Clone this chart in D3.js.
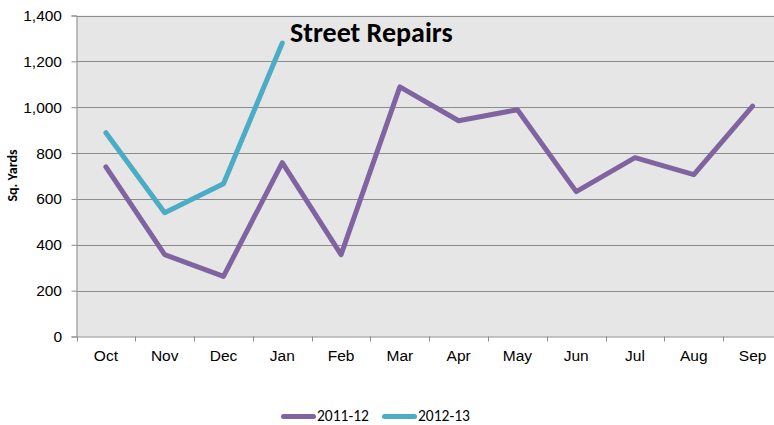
<!DOCTYPE html>
<html>
<head>
<meta charset="utf-8">
<script src="https://cdn.jsdelivr.net/npm/d3@7"></script>
<style>
  html, body { margin: 0; padding: 0; background: #fff; }
  svg { display: block; font-family: Calibri, Carlito, "Open Sans", "Liberation Sans", sans-serif; }
</style>
</head>
<body>
<svg id="chart" width="774" height="425"></svg>
<script>
// Monthly square yards of street repairs, fiscal years Oct–Sep
const months = ["Oct", "Nov", "Dec", "Jan", "Feb", "Mar", "Apr", "May", "Jun", "Jul", "Aug", "Sep"];
const fy2011 = [740, 357, 262, 758, 357, 1089, 941, 989, 632, 780, 706, 1005];
const fy2012 = [889, 540, 666, 1280];
const yTicks = [0, 200, 400, 600, 800, 1000, 1200, 1400];
const seriesNames = ["2011-12", "2012-13"];
const seriesColors = ["#8064A2", "#4BACC6"];

const svg = d3.select("#chart");
const plot = { left: 76.5, top: 15.5, right: 782, bottom: 336.5 };
const labelSize = 15.5;

const x = d3.scaleBand().domain(months).range([plot.left, plot.right]);
const y = d3.scaleLinear().domain([0, 1400]).range([plot.bottom, plot.top]);

// plot background
svg.append("rect")
  .attr("x", plot.left).attr("y", plot.top)
  .attr("width", plot.right - plot.left).attr("height", plot.bottom - plot.top)
  .attr("fill", "#e6e6e6");

// horizontal gridlines
svg.append("g").selectAll("line").data(yTicks.filter(d => d > 0)).join("line")
  .attr("x1", plot.left).attr("x2", plot.right)
  .attr("y1", d => Math.round(y(d)) + 0.5).attr("y2", d => Math.round(y(d)) + 0.5)
  .attr("stroke", "#8c8c8c").attr("stroke-width", 1);

// y axis
const yAxis = svg.append("g")
  .attr("transform", `translate(${plot.left},0)`)
  .call(d3.axisLeft(y).tickValues(yTicks).tickFormat(d3.format(",")).tickSize(5).tickPadding(9.5));
yAxis.select(".domain").attr("stroke", "#8c8c8c");
yAxis.selectAll(".tick line").attr("stroke", "#8c8c8c");
yAxis.selectAll("text").attr("font-size", labelSize).attr("fill", "#000").attr("font-family", null);

// x axis
const xAxis = svg.append("g")
  .attr("transform", `translate(0,${plot.bottom})`)
  .call(d3.axisBottom(x).tickSize(0).tickPadding(13.5));
xAxis.select(".domain").attr("stroke", "#8c8c8c");
xAxis.selectAll("text").attr("font-size", labelSize).attr("fill", "#000").attr("font-family", null);
// tick marks on the category boundaries
svg.append("g").selectAll("line").data(months).join("line")
  .attr("x1", d => Math.round(x(d)) + 0.5).attr("x2", d => Math.round(x(d)) + 0.5)
  .attr("y1", plot.bottom).attr("y2", plot.bottom + 5)
  .attr("stroke", "#8c8c8c");

// series lines
const line = d3.line()
  .x((d, i) => x(months[i]) + x.bandwidth() / 2)
  .y(d => y(d));

[fy2011, fy2012].forEach((vals, i) => {
  svg.append("path")
    .datum(vals)
    .attr("d", line)
    .attr("fill", "none")
    .attr("stroke", seriesColors[i])
    .attr("stroke-width", 5)
    .attr("stroke-linejoin", "round")
    .attr("stroke-linecap", "round");
});

// title
svg.append("text")
  .attr("x", 290).attr("y", 41.5)
  .attr("font-size", 28).attr("font-weight", "bold").attr("fill", "#000")
  .text("Street Repairs");

// y axis title
svg.append("text")
  .attr("transform", "translate(17,175.5) rotate(-90)")
  .attr("text-anchor", "middle")
  .attr("font-size", 14).attr("font-weight", "bold").attr("fill", "#000")
  .text("Sq. Yards");

// legend
const legendX = [281, 382];
const legend = svg.append("g");
seriesNames.forEach((name, i) => {
  legend.append("line")
    .attr("x1", legendX[i] + 2.5).attr("x2", legendX[i] + 32.5)
    .attr("y1", 416.5).attr("y2", 416.5)
    .attr("stroke", seriesColors[i]).attr("stroke-width", 5)
    .attr("stroke-linecap", "round");
  legend.append("text")
    .attr("x", legendX[i] + 36).attr("y", 420.5)
    .attr("font-size", labelSize).attr("fill", "#000")
    .text(name);
});
</script>
</body>
</html>
